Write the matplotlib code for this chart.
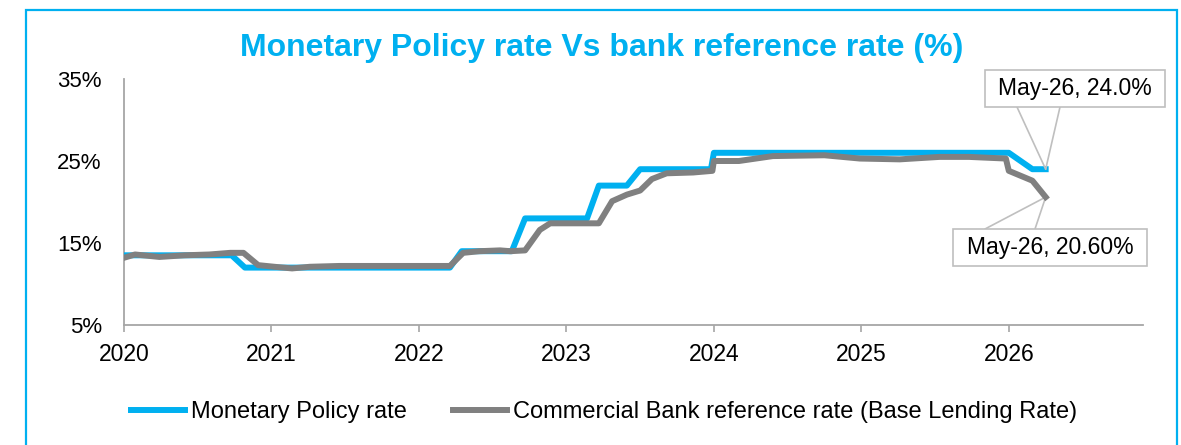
import matplotlib
matplotlib.use("Agg")
import matplotlib.pyplot as plt
from matplotlib.patches import Rectangle

plt.rcParams['font.family'] = ['Liberation Sans', 'DejaVu Sans']

# chart values, x in decimal years
mpr_x = [2020.00, 2020.73, 2020.82, 2022.21, 2022.29, 2022.63, 2022.72, 2023.14,
         2023.22, 2023.41, 2023.50, 2023.98, 2024.00, 2026.00, 2026.16, 2026.25]
mpr_y = [13.5, 13.5, 12.0, 12.0, 14.0, 14.0, 18.0, 18.0,
         22.0, 22.0, 24.0, 24.0, 26.0, 26.0, 24.0, 24.0]

blr_x = [2020.00, 2020.075, 2020.24, 2020.41, 2020.58, 2020.72, 2020.81, 2020.91,
         2021.02, 2021.14, 2021.26, 2021.46, 2022.21, 2022.30, 2022.41, 2022.55,
         2022.62, 2022.72, 2022.82, 2022.89, 2023.22, 2023.31, 2023.41, 2023.50,
         2023.58, 2023.68, 2023.86, 2023.99, 2024.00, 2024.17, 2024.40, 2024.75,
         2024.99, 2025.26, 2025.53, 2025.73, 2025.98, 2026.00, 2026.16, 2026.25]
blr_y = [13.2, 13.6, 13.3, 13.5, 13.6, 13.8, 13.8, 12.3,
         12.1, 11.9, 12.1, 12.2, 12.2, 13.8, 14.0, 14.1,
         14.0, 14.1, 16.6, 17.4, 17.4, 20.1, 20.9, 21.4,
         22.8, 23.5, 23.6, 23.8, 25.0, 25.0, 25.6, 25.7,
         25.3, 25.2, 25.5, 25.5, 25.3, 23.8, 22.6, 20.6]

years = [2020, 2021, 2022, 2023, 2024, 2025, 2026]
y_ticks = [5, 15, 25, 35]
last_label_mpr = "May-26, 24.0%"
last_label_blr = "May-26, 20.60%"

BLUE = '#00B0F0'
GREY = '#808080'
W, H = 1181, 445

fig = plt.figure(figsize=(W / 100, H / 100), dpi=100)
ax = fig.add_axes([124 / W, 1 - 325 / H, (1143 - 124) / W, (325 - 79) / H])

ax.plot(mpr_x, mpr_y, color=BLUE, lw=4.3, solid_joinstyle='round',
        label='Monetary Policy rate', zorder=3)
ax.plot(blr_x, blr_y, color=GREY, lw=4.3, solid_joinstyle='round',
        label='Commercial Bank reference rate (Base Lending Rate)', zorder=4)

ax.set_xlim(2020, 2026.91)
ax.set_ylim(5, 35)
ax.set_yticks(y_ticks)
ax.set_yticklabels([f'{v}%' for v in y_ticks])
ax.set_xticks(years)
ax.set_xticklabels([str(y) for y in years])
ax.tick_params(axis='y', length=0, pad=16, labelsize=16)
ax.tick_params(axis='x', length=5, width=1.2, color='#A6A6A6', pad=8, labelsize=16.5)
for s in ['top', 'right']:
    ax.spines[s].set_visible(False)
for s in ['left', 'bottom']:
    ax.spines[s].set_color('#A6A6A6')
    ax.spines[s].set_linewidth(1.3)

fig.text(602 / W, 1 - 48 / H, 'Monetary Policy rate Vs bank reference rate (%)',
         color=BLUE, fontsize=23, fontweight='bold', ha='center', va='center')

# callout boxes with wedge lines
def callout(text, px, py, box, anchors):
    x0, y0, x1, y1 = box
    fig.patches.append(Rectangle((x0 / W, 1 - y1 / H), (x1 - x0) / W, (y1 - y0) / H,
                                 transform=fig.transFigure, facecolor='white',
                                 edgecolor='#BFBFBF', lw=1.2, zorder=5))
    fig.text((x0 + x1) / 2 / W, 1 - (y0 + y1) / 2 / H, text, fontsize=16.5,
             ha='center', va='center', color='black', zorder=6)
    for ax_px, ay_px in anchors:
        ax.annotate('', xy=(px, py), xytext=(ax_px / W, 1 - ay_px / H),
                    textcoords='figure fraction', xycoords='data',
                    arrowprops=dict(arrowstyle='-', color='#BFBFBF', lw=1.2,
                                    shrinkA=0, shrinkB=0), annotation_clip=False)

callout(last_label_mpr, mpr_x[-1], mpr_y[-1], (985, 70, 1165, 107),
        [(1017, 107), (1060, 107)])
callout(last_label_blr, blr_x[-1], blr_y[-1], (953, 229, 1147, 266),
        [(985, 229), (1035, 229)])

leg = fig.legend(loc='center', bbox_to_anchor=(604 / W, 1 - 412 / H), ncol=2,
                 frameon=False, fontsize=17, handlelength=2.3, handletextpad=0.25,
                 columnspacing=1.95)

fig.patches.append(Rectangle((26 / W, -0.2), (1177 - 26) / W, 1.2 - 10 / H,
                             transform=fig.transFigure, fill=False,
                             edgecolor=BLUE, lw=1.6))

fig.savefig('out.png', dpi=100)
